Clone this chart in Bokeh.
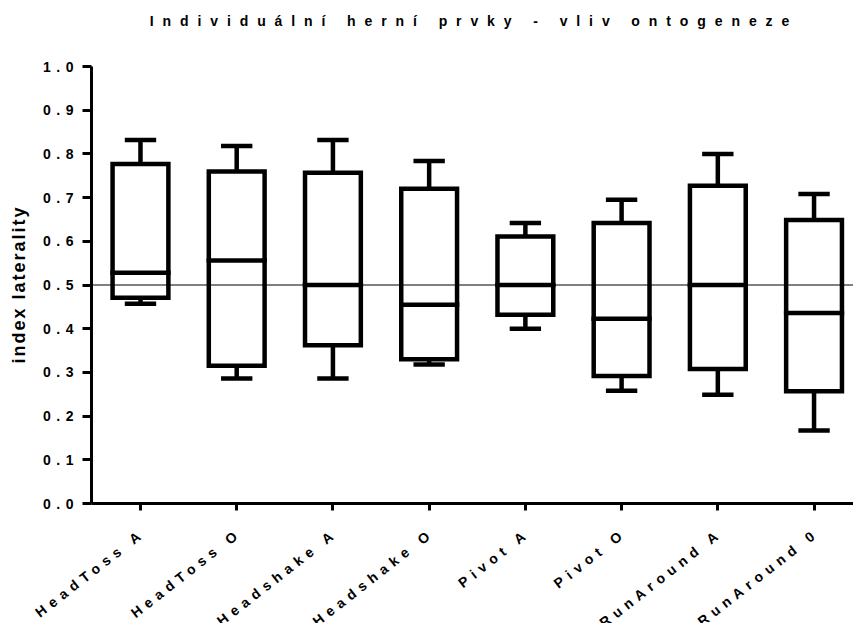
import math

from bokeh.core.properties import value
from bokeh.embed import file_html
from bokeh.layouts import column, row
from bokeh.models import (ColumnDataSource, FixedTicker, Label,
                          NumeralTickFormatter, Range1d, Span)
from bokeh.plotting import figure
from bokeh.resources import INLINE

# Lateralisation index per game element, A = adults, O = youngsters
categories = ["HeadToss A", "HeadToss O", "Headshake A", "Headshake O",
              "Pivot A", "Pivot O", "RunAround A", "RunAround 0"]
whisker_low = [0.457, 0.286, 0.286, 0.318, 0.400, 0.258, 0.249, 0.167]
q1 = [0.471, 0.315, 0.362, 0.330, 0.432, 0.292, 0.308, 0.257]
median = [0.528, 0.556, 0.500, 0.455, 0.500, 0.423, 0.500, 0.436]
q3 = [0.777, 0.760, 0.757, 0.720, 0.611, 0.642, 0.727, 0.649]
whisker_high = [0.832, 0.818, 0.832, 0.784, 0.642, 0.695, 0.800, 0.708]
y_ticks = [0.0, 0.1, 0.2, 0.3, 0.4, 0.5, 0.6, 0.7, 0.8, 0.9, 1.0]
reference_level = 0.5

TITLE = "Individuální herní prvky - vliv ontogeneze"
Y_LABEL = "index laterality"

FONT = "Liberation Sans"
W, H = 853, 623
TITLE_H = 40          # strip holding the title
LABEL_W = 30          # strip holding the y-axis title
PLOT_H = 475          # box-plot panel
FRAME_H = 437         # height of the data frame
BORDER_TOP = 26
BORDER_BOTTOM = PLOT_H - BORDER_TOP - FRAME_H
FRAME_LEFT = 91 - LABEL_W
TRACK_TITLE = 8.9     # letter spacing (px) of each strip
TRACK_LABEL = 2.0
TRACK_TICKS = 5.5
BOX_HALF = 0.29
CAP_HALF = 0.163
X_ANGLE = math.radians(38)


def bare(fig):
    fig.axis.visible = False
    fig.grid.visible = False
    fig.outline_line_color = None
    fig.background_fill_color = "white"
    fig.border_fill_color = "white"
    return fig


# ---- title strip -------------------------------------------------------
title_fig = bare(figure(width=W, height=TITLE_H, output_backend="svg",
                        toolbar_location=None, min_border=0,
                        x_range=Range1d(0, W), y_range=Range1d(0, TITLE_H),
                        styles={"letter-spacing": f"{TRACK_TITLE}px"}))
# letter spacing is added after every glyph, so pull the centred text back
title_fig.add_layout(Label(x=469, y=TITLE_H - 20, text=TITLE,
                           x_offset=-(len(TITLE) - 1) * TRACK_TITLE / 2,
                           text_align="center", text_baseline="middle",
                           text_font=FONT, text_font_size="14px",
                           text_font_style="bold", text_color="black"))

# ---- y-axis title strip (same vertical borders as the box plot) ---------
label_fig = bare(figure(width=LABEL_W, height=PLOT_H, output_backend="svg",
                        toolbar_location=None,
                        min_border_left=0, min_border_right=0,
                        min_border_top=BORDER_TOP,
                        min_border_bottom=BORDER_BOTTOM,
                        x_range=Range1d(0, LABEL_W),
                        y_range=Range1d(0, FRAME_H),
                        styles={"letter-spacing": f"{TRACK_LABEL}px"}))
label_fig.add_layout(Label(x=18,
                           y=FRAME_H - (285 - TITLE_H - BORDER_TOP),
                           text=Y_LABEL,
                           y_offset=-(len(Y_LABEL) - 1) * TRACK_LABEL / 2,
                           angle=math.pi / 2,
                           text_align="center", text_baseline="middle",
                           text_font=FONT, text_font_size="18px",
                           text_font_style="bold", text_color="black"))

# ---- box plot ----------------------------------------------------------
xs = list(range(len(categories)))
src = ColumnDataSource(dict(
    x=xs,
    left=[i - BOX_HALF for i in xs],
    right=[i + BOX_HALF for i in xs],
    cap_l=[i - CAP_HALF for i in xs],
    cap_r=[i + CAP_HALF for i in xs],
    lo=whisker_low, q1=q1, med=median, q3=q3, hi=whisker_high,
))

plot_w = W - LABEL_W
x_range = Range1d(-0.509, 7.41)
p = figure(width=plot_w, height=PLOT_H, output_backend="svg",
           toolbar_location=None,
           x_range=x_range, y_range=Range1d(0, 1.0),
           min_border_left=FRAME_LEFT, min_border_right=0,
           min_border_top=BORDER_TOP, min_border_bottom=BORDER_BOTTOM,
           styles={"letter-spacing": f"{TRACK_TICKS}px"})

p.grid.visible = False
p.outline_line_color = None
p.background_fill_color = "white"
p.border_fill_color = "white"

for ax in (p.xaxis[0], p.yaxis[0]):
    ax.axis_line_width = 3
    ax.axis_line_color = "black"
    ax.major_tick_line_width = 3
    ax.major_tick_line_color = "black"
    ax.major_tick_in = 0
    ax.minor_tick_line_color = None
    ax.major_label_text_font = FONT
    ax.major_label_text_font_size = "14px"
    ax.major_label_text_font_style = "bold"
    ax.major_label_text_color = "black"

p.yaxis.ticker = FixedTicker(ticks=y_ticks)
p.yaxis.formatter = NumeralTickFormatter(format="0.0")
p.yaxis.major_tick_out = 9
# right-aligned labels grow by the tracking of two gaps ("0.5")
p.yaxis.major_label_standoff = int(round(9 + 2 * TRACK_TICKS))

# the x axis keeps only its line and ticks; names go in the strip below
p.xaxis.ticker = FixedTicker(ticks=xs)
p.xaxis.major_tick_out = 7
p.xaxis.major_label_overrides = {i: "" for i in xs}
p.xaxis.major_label_text_font_size = "1px"
p.xaxis.major_label_text_color = None
p.xaxis.major_label_standoff = 0

# boxes, whiskers and caps
p.segment(x0="x", x1="x", y0="q3", y1="hi", source=src,
          line_color="black", line_width=4.5)
p.segment(x0="x", x1="x", y0="q1", y1="lo", source=src,
          line_color="black", line_width=4.5)
p.segment(x0="cap_l", x1="cap_r", y0="hi", y1="hi", source=src,
          line_color="black", line_width=4.5)
p.segment(x0="cap_l", x1="cap_r", y0="lo", y1="lo", source=src,
          line_color="black", line_width=4.5)
p.quad(left="left", right="right", bottom="q1", top="q3", source=src,
       fill_color="white", line_color="black", line_width=4.5,
       line_join="miter")
p.segment(x0="left", x1="right", y0="med", y1="med", source=src,
          line_color="black", line_width=4.5, line_cap="square")

p.add_layout(Span(location=reference_level, dimension="width",
                  line_color="black", line_width=1))

# ---- slanted category names: full-width strip on the same x scale -------
px_per_unit = (plot_w - FRAME_LEFT) / (x_range.end - x_range.start)
names_range = Range1d(x_range.start - (LABEL_W + FRAME_LEFT) / px_per_unit,
                      x_range.end)
strip_h = H - TITLE_H - PLOT_H
names = bare(figure(width=W, height=strip_h, output_backend="svg",
                    toolbar_location=None, x_range=names_range,
                    y_range=Range1d(0, strip_h), min_border=0,
                    styles={"letter-spacing": f"{TRACK_TICKS}px"}))
shift = [(len(c) - 1) * TRACK_TICKS for c in categories]
name_src = ColumnDataSource(dict(
    x=xs, y=[strip_h - 19] * len(xs), text=categories,
    xo=[-1.5 - s * math.cos(X_ANGLE) for s in shift],
    yo=[s * math.sin(X_ANGLE) for s in shift],
))
names.text(x="x", y="y", text="text", source=name_src,
           x_offset="xo", y_offset="yo", angle=X_ANGLE,
           text_align="right", text_baseline="middle",
           text_font=value(FONT), text_font_size=value("14px"),
           text_font_style=value("bold"), text_color="black")

layout = column(title_fig, row(label_fig, p, spacing=0), names, spacing=0)

open("out.html", "w").write(file_html(layout, INLINE))
